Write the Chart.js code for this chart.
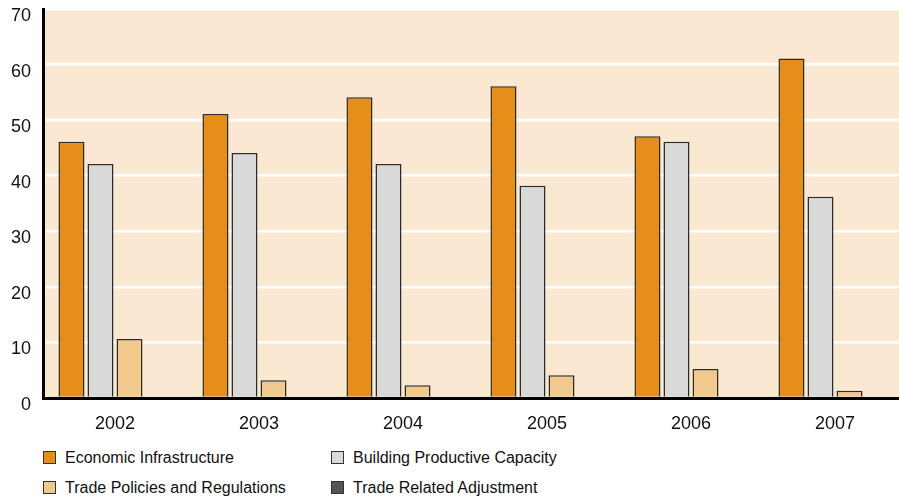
<!DOCTYPE html>
<html>
<head>
<meta charset="utf-8">
<script src="https://cdn.jsdelivr.net/npm/chart.js@4"></script>
<style>
  body { margin: 0; background: #fff; font-family: "Liberation Sans", Arial, sans-serif; }
  #wrap { position: relative; width: 899px; height: 499px; overflow: hidden; }
  #chartBox { position: absolute; left: 0; top: 0; width: 907px; height: 440px; }
  #legend { position: absolute; left: 43px; top: 448px; width: 600px; display: grid;
            grid-template-columns: 288px 300px; row-gap: 11px; font-size: 16px; color: #111; }
  .item { display: flex; align-items: center; height: 19px; }
  .swatch { width: 11px; height: 11px; border: 1.5px solid #333; margin-right: 9px; box-sizing: content-box; }
</style>
</head>
<body>
<div id="wrap">
  <div id="chartBox"><canvas id="bars"></canvas></div>
  <div id="legend"></div>
</div>
<script>
// years on the x axis
const years = ['2002', '2003', '2004', '2005', '2006', '2007'];

// one array per sector
const economicInfrastructure = [46.1, 51.1, 54.1, 56.1, 47.1, 61.1];
const buildingCapacity = [42.1, 44.1, 42.1, 38.2, 46.1, 36.2];
const tradePolicies = [10.6, 3.2, 2.3, 4.1, 5.2, 1.3];
const tradeAdjustment = [0, 0, 0, 0, 0, 0];

const seriesNames = ['Economic Infrastructure', 'Building Productive Capacity',
                     'Trade Policies and Regulations', 'Trade Related Adjustment'];
const seriesColors = ['#E58E1A', '#D9D9D9', '#F2C98D', '#555555'];
const seriesValues = [economicInfrastructure, buildingCapacity, tradePolicies, tradeAdjustment];

// fill the plot area with the light peach background
const plotBackground = {
    id: 'plotBackground',
    beforeDraw(chart) {
        const { ctx, chartArea } = chart;
        ctx.save();
        ctx.fillStyle = '#FAE8D2';
        ctx.fillRect(chartArea.left, chartArea.top, chartArea.right - chartArea.left, chartArea.bottom - chartArea.top);
        ctx.restore();
    }
};

const tickFont = { family: 'Liberation Sans, Arial', size: 18 };

const ctx = document.getElementById('bars').getContext('2d');
const chart = new Chart(ctx, {
    type: 'bar',
    data: {
        labels: years,
        datasets: seriesNames.map((name, i) => ({
            label: name,
            data: seriesValues[i],
            backgroundColor: seriesColors[i],
            borderColor: '#2b2b2b',
            borderWidth: c => (c.raw ? 1.5 : 0),
            borderSkipped: 'bottom',
            categoryPercentage: 0.806,
            barPercentage: 0.897
        }))
    },
    options: {
        responsive: true,
        maintainAspectRatio: false,
        animation: false,
        layout: { padding: { top: 9, right: 0, left: 0, bottom: 0 } },
        plugins: {
            legend: { display: false },
            tooltip: { enabled: false }
        },
        scales: {
            x: {
                grid: { display: false, drawTicks: false },
                border: { display: true, color: '#000', width: 3 },
                ticks: { color: '#111', font: tickFont, padding: 15 },
                afterFit: s => { s.height = 42; s.paddingLeft = 0; s.paddingRight = 0; }
            },
            y: {
                min: 0,
                max: 70,
                ticks: { stepSize: 10, color: '#111', font: tickFont, padding: 12, labelOffset: 7 },
                grid: { color: '#ffffff', lineWidth: 2.5, drawTicks: false },
                border: { display: true, color: '#000', width: 3 },
                afterFit: s => { s.width = 43; s.paddingTop = 0; s.paddingBottom = 0; }
            }
        }
    },
    plugins: [plotBackground]
});

// two-column legend under the chart
const legend = document.getElementById('legend');
chart.data.datasets.forEach(ds => {
    const item = document.createElement('div');
    item.className = 'item';
    const sw = document.createElement('span');
    sw.className = 'swatch';
    sw.style.background = ds.backgroundColor;
    const txt = document.createElement('span');
    txt.textContent = ds.label;
    item.appendChild(sw);
    item.appendChild(txt);
    legend.appendChild(item);
});
</script>
</body>
</html>
